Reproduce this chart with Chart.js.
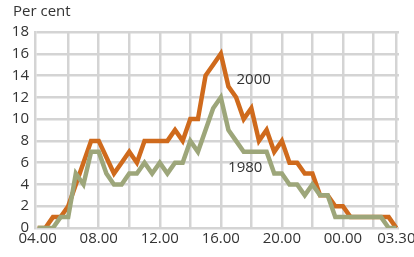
<!DOCTYPE html>
<html><head><meta charset="utf-8">
<script src="https://cdn.jsdelivr.net/npm/chart.js@4/dist/chart.umd.min.js"></script>
<style>html,body{margin:0;padding:0;background:#fff}#wrap{width:414px;height:257px}</style>
</head><body><div id="wrap"><canvas id="c" width="414" height="257"></canvas></div>
<script>
const categories = ['04.00','04.30','05.00','05.30','06.00','06.30','07.00','07.30','08.00','08.30','09.00','09.30',
  '10.00','10.30','11.00','11.30','12.00','12.30','13.00','13.30','14.00','14.30','15.00','15.30',
  '16.00','16.30','17.00','17.30','18.00','18.30','19.00','19.30','20.00','20.30','21.00','21.30',
  '22.00','22.30','23.00','23.30','00.00','00.30','01.00','01.30','02.00','02.30','03.00','03.30'];
const series2000 = [0,0,1,1,2,4,6,8,8,6.5,5,6,7,6,8,8,8,8,9,8,10,10,14,15,16,13,12,10,11,8,9,7,8,6,6,5,5,3,3,2,2,1,1,1,1,1,1,0];
const series1980 = [0,0,0,1,1,5,4,7,7,5,4,4,5,5,6,5,6,5,6,6,8,7,9,11,12,9,8,7,7,7,7,5,5,4,4,3,4,3,3,1,1,1,1,1,1,1,0,0];
const xTickLabels = ['04.00','08.00','12.00','16.00','20.00','00.00','03.30'];
const yTickValues = [0,2,4,6,8,10,12,14,16,18];
const seriesNames = ['2000','1980'];
const yTitle = 'Per cent';

const TXT = '#333333';
const GRID = '#d4d4d4';
const FONT = {family: "'Open Sans', sans-serif", size: 15};
const last = categories.length - 1;
const gridIdx = categories.map((c,i)=>i).filter(i => i % 4 === 0 || i === last);

const textPlugin = {
  id: 'texts',
  afterDatasetsDraw(chart) {
    const {ctx, scales} = chart;
    ctx.save();
    ctx.fillStyle = TXT;
    ctx.font = "15px 'Open Sans', sans-serif";
    ctx.textBaseline = 'middle';
    ctx.textAlign = 'left';
    ctx.fillText(yTitle, 13, 12);
    ctx.textAlign = 'center';
    ctx.fillText(seriesNames[0], scales.x.getPixelForValue(28.3), scales.y.getPixelForValue(13.6));
    ctx.fillText(seriesNames[1], scales.x.getPixelForValue(27.2), scales.y.getPixelForValue(5.5));
    ctx.restore();
  }
};

new Chart(document.getElementById('c'), {
  type: 'line',
  data: {
    datasets: [
      {label: seriesNames[0], data: series2000.map((v,i)=>({x:i,y:v})), borderColor: '#cf6a1c', borderWidth: 4.5, pointRadius: 0, tension: 0, order: 1},
      {label: seriesNames[1], data: series1980.map((v,i)=>({x:i,y:v})), borderColor: '#9da67a', borderWidth: 4.5, pointRadius: 0, tension: 0, order: 0}
    ]
  },
  options: {
    responsive: false,
    animation: false,
    devicePixelRatio: 1,
    layout: {padding: {left: 0, right: 15, top: 32, bottom: 0}},
    plugins: {legend: {display: false}, tooltip: {enabled: false}, title: {display: false}},
    scales: {
      x: {
        type: 'linear', min: -0.35, max: 47.35,
        afterBuildTicks(s) { s.ticks = gridIdx.map(v => ({value: v})); },
        afterFit(s) { s.height = 29; s.paddingLeft = 0; s.paddingRight = 0; },
        ticks: {
          autoSkip: false, maxRotation: 0, padding: 2, color: TXT, font: FONT,
          callback: (v) => xTickLabels.includes(categories[v]) ? categories[v] : ''
        },
        grid: {
          color: (c) => (c.tick && c.tick.value === 0) ? 'rgba(0,0,0,0)' : GRID,
          lineWidth: 2.5, drawTicks: false
        },
        border: {display: false}
      },
      y: {
        min: 0, max: 18,
        afterBuildTicks(s) { s.ticks = yTickValues.map(v => ({value: v})); },
        afterFit(s) { s.width = 35; },
        ticks: {padding: 6, color: TXT, font: FONT},
        grid: {color: GRID, lineWidth: 2.5, drawTicks: false},
        border: {display: true, color: GRID, width: 2.5}
      }
    }
  },
  plugins: [textPlugin]
});
</script></body></html>
